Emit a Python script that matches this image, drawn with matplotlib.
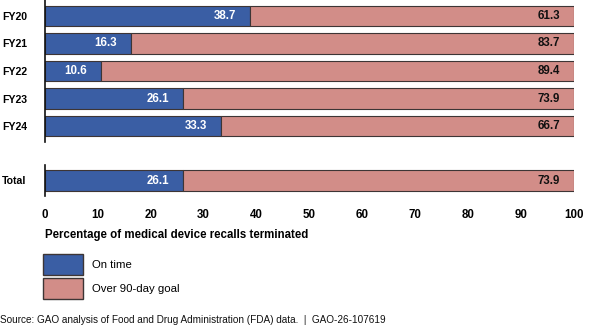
import matplotlib.pyplot as plt
from matplotlib.patches import Patch

plt.rcParams['font.family'] = ['Liberation Sans', 'DejaVu Sans']

# data
years = ['FY20', 'FY21', 'FY22', 'FY23', 'FY24']
on_time = [38.7, 16.3, 10.6, 26.1, 33.3]
over_goal = [61.3, 83.7, 89.4, 73.9, 66.7]
total_on_time = 26.1
total_over = 73.9
ticks = [0, 10, 20, 30, 40, 50, 60, 70, 80, 90, 100]

blue = '#3a5ea4'
pink = '#d28d88'
edge = '#3d3535'

W, H = 600, 327
fig = plt.figure(figsize=(W / 100, H / 100), dpi=100)


def px_axes(x0, y0, x1, y1):
    return fig.add_axes([x0 / W, 1 - y1 / H, (x1 - x0) / W, (y1 - y0) / H])


def draw_bars(ax, labels, left, right):
    ypos = list(range(len(labels)))
    ax.barh(ypos, left, height=0.73, color=blue, edgecolor=edge, linewidth=0.8)
    ax.barh(ypos, right, left=left, height=0.73, color=pink, edgecolor=edge, linewidth=0.8)
    for y, a, b in zip(ypos, left, right):
        ax.annotate(f'{a:.1f}', (a, y), xytext=(-10, 0), textcoords='offset points',
                    ha='right', va='center', color='white', fontsize=8.3, fontweight='bold')
        ax.annotate(f'{b:.1f}', (100, y), xytext=(-10, 0), textcoords='offset points',
                    ha='right', va='center', color='#111111', fontsize=8.3, fontweight='bold')
    ax.set_xlim(0, 100)
    ax.set_yticks(ypos)
    ax.set_yticklabels(labels, fontsize=7.6, fontweight='bold')
    ax.tick_params(axis='y', length=0, pad=31)
    for s in ['top', 'right', 'bottom']:
        ax.spines[s].set_visible(False)
    ax.spines['left'].set_linewidth(1.2)
    ax.spines['left'].set_color('#111111')
    for lab in ax.get_yticklabels():
        lab.set_horizontalalignment('left')


ax1 = px_axes(45, 0, 574, 142)
draw_bars(ax1, years, on_time, over_goal)
ax1.set_ylim(4.58, -0.58)
ax1.set_xticks([])

ax2 = px_axes(45, 165, 574, 196)
draw_bars(ax2, ['Total'], [total_on_time], [total_over])
ax2.set_ylim(0.564, -0.564)
ax2.set_xticks(ticks)
ax2.set_xticklabels([str(t) for t in ticks], fontsize=8.3, fontweight='bold')
ax2.tick_params(axis='x', length=0, pad=9)
ax2.set_xlabel('Percentage of medical device recalls terminated', fontsize=8.3,
               fontweight='bold', loc='left', labelpad=6)

handles = [Patch(facecolor=blue, edgecolor=edge, label='On time'),
           Patch(facecolor=pink, edgecolor=edge, label='Over 90-day goal')]
fig.legend(handles=handles, loc='upper left', bbox_to_anchor=(43 / W, 1 - 254 / H),
           frameon=False, fontsize=8.2, handlelength=3.5, handleheight=2.4,
           handletextpad=0.8, labelspacing=0.3, borderaxespad=0, borderpad=0)

fig.text(0.0, 1 - 320 / H, 'Source: GAO analysis of Food and Drug Administration (FDA) data.  |  GAO-26-107619',
         fontsize=7.2, va='center', ha='left', color='#111111')

fig.savefig('out.png', dpi=100)
